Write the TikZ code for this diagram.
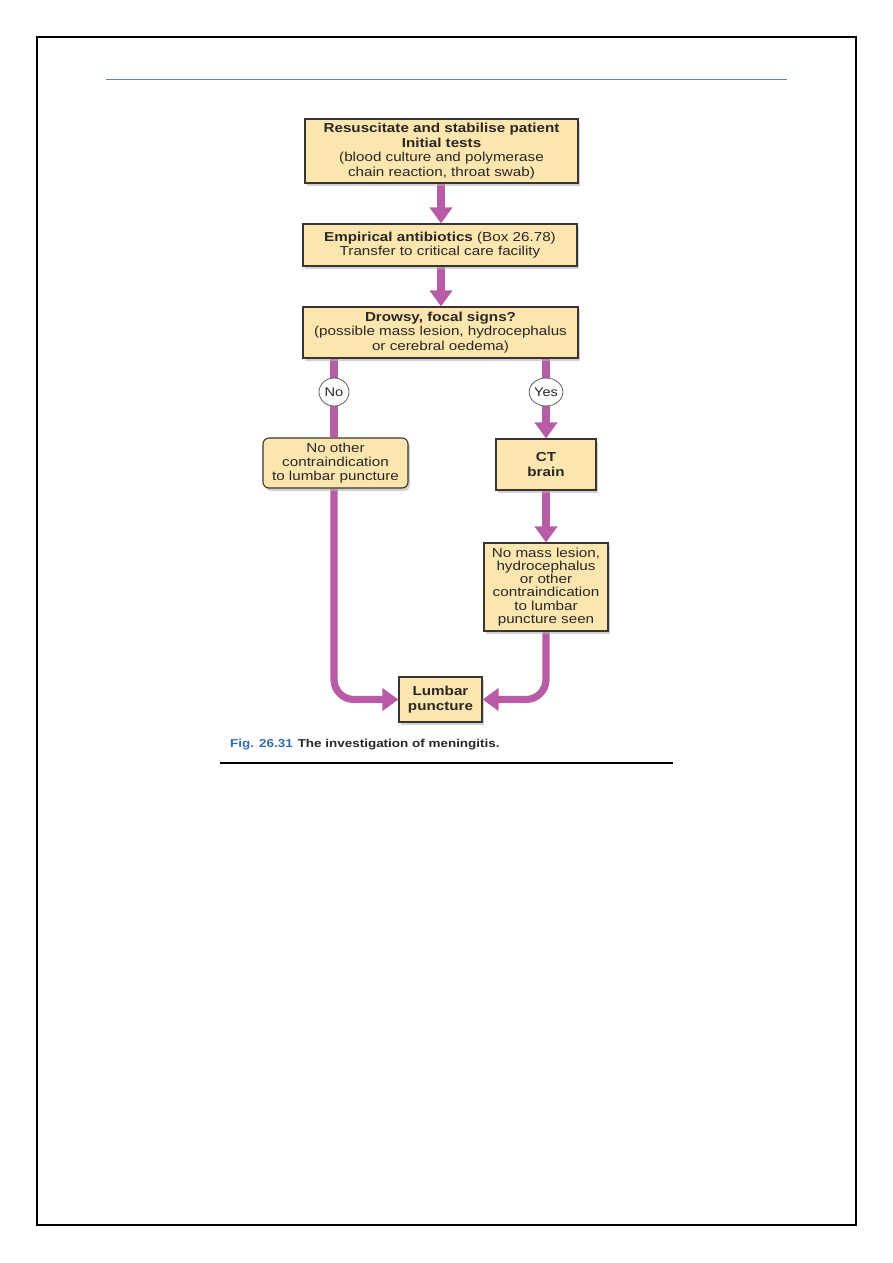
\documentclass[tikz,border=0pt]{standalone}
\usepackage{fontspec}
\setmainfont{Liberation Sans}[FakeStretch=1.17]
\usetikzlibrary{arrows.meta,shadows,backgrounds,shapes.geometric}
\definecolor{boxfill}{HTML}{FCE6B0}
\definecolor{boxline}{HTML}{3A3530}
\definecolor{conncol}{HTML}{B85CA8}
\definecolor{capblue}{HTML}{2F6DB0}
\definecolor{txtcol}{HTML}{2A2622}
\definecolor{rulecol}{HTML}{5A88B0}
\begin{document}
\begin{tikzpicture}[x=1pt,y=-1pt,
  fbox/.style={draw=boxline,line width=1.1pt,fill=boxfill,align=center,
    inner sep=1pt,text=txtcol,font=\fontsize{13}{14.5}\selectfont,
    drop shadow={shadow xshift=2pt,shadow yshift=-3pt,fill=black!30,opacity=0.6}},
  rbox/.style={fbox,rounded corners=6pt},
  dec/.style={draw=boxline!80,line width=0.8pt,fill=white,ellipse,inner sep=0pt,
    minimum width=30pt,minimum height=28pt,font=\fontsize{12.5}{13}\selectfont,text=txtcol},
  conn/.style={draw=conncol,line width=7.2pt},
  arr/.style={conn,-{Triangle[width=22pt,length=16pt]}}]
\useasboundingbox (0,0) rectangle (893,1263);
% page frame
\draw[line width=1.4pt] (37,37) rectangle (856,1225);
\draw[line width=2.2pt] (37,37) -- (856,37);
\draw[rulecol,line width=1pt] (106,79) -- (787,79);
% boxes
\node[fbox,minimum width=273pt,minimum height=64pt] (b1) at (441.5,151)
  {\textbf{Resuscitate and stabilise patient}\\\textbf{Initial tests}\\(blood culture and polymerase\\chain reaction, throat swab)};
\node[fbox,minimum width=274pt,minimum height=42pt] (b2) at (440,245)
  {\textbf{Empirical antibiotics} (Box 26.78)\\Transfer to critical care facility};
\node[fbox,minimum width=275pt,minimum height=51pt] (b3) at (440.5,332.5)
  {\textbf{Drowsy, focal signs?}\\(possible mass lesion, hydrocephalus\\or cerebral oedema)};
\node[rbox,minimum width=145pt,minimum height=50pt,font=\fontsize{13}{14}\selectfont] (b4) at (335.5,463)
  {No other\\contraindication\\to lumbar puncture};
\node[fbox,minimum width=100pt,minimum height=51pt] (b5) at (546,464.5)
  {\textbf{CT}\\\textbf{brain}};
\node[fbox,minimum width=124pt,minimum height=88pt,font=\fontsize{13}{13.2}\selectfont] (b6) at (546,587)
  {No mass lesion,\\hydrocephalus\\or other\\contraindication\\to lumbar\\puncture seen};
\node[fbox,minimum width=83pt,minimum height=45pt] (b7) at (440.5,699.5)
  {\textbf{Lumbar}\\\textbf{puncture}};
\node[dec] (no) at (334,392) {No};
\node[dec] (yes) at (546,392) {Yes};
% caption
\node[anchor=base west,inner sep=0pt,font=\fontsize{11.5}{13}\selectfont\bfseries] (cap) at (230,747)
  {\textcolor{capblue}{Fig. 26.31}\hspace{5pt}\textcolor{txtcol}{The investigation of meningitis.}};
\draw[line width=2pt] (220,763) -- (673,763);
% connectors
\begin{scope}[on background layer]
\draw[arr] (441,183) coordinate (a1) (b1.south -| a1) -- (b2.north -| a1);
\draw[arr] (b2.south -| a1) -- (b3.north -| a1);
\draw[conn] (no |- b3.south) -- (no);
\draw[conn] (no) -- (no |- b4.north);
\draw[arr,rounded corners=20pt] (no |- b4.south) |- (b7.west);
\draw[conn] (yes |- b3.south) -- (yes);
\draw[arr] (yes) -- (b5.north);
\draw[arr] (b5.south) -- (b6.north);
\draw[arr,rounded corners=20pt] (b6.south) |- (b7.east);
\end{scope}
\end{tikzpicture}
\end{document}
